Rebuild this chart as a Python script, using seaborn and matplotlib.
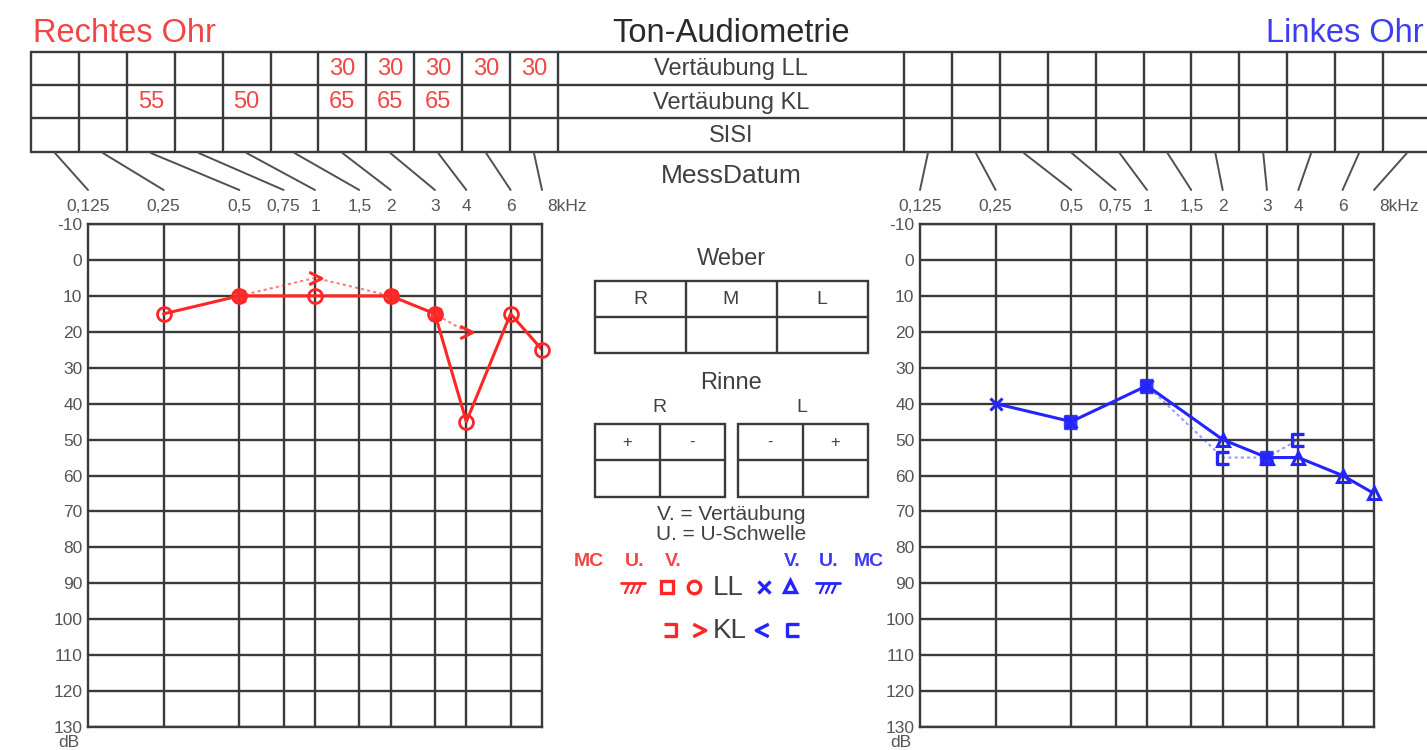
import matplotlib
matplotlib.use('Agg')
import matplotlib.pyplot as plt
from matplotlib.path import Path
from matplotlib.patches import ConnectionPatch, Rectangle
import seaborn as sns

# Frequenzen (kHz) und Beschriftung
freqs = [0.125, 0.25, 0.5, 0.75, 1, 1.5, 2, 3, 4, 6, 8]
freq_labels = ['0,125', '0,25', '0,5', '0,75', '1', '1,5', '2', '3', '4', '6', '8kHz']
db_ticks = list(range(-10, 131, 10))

# Vertäubung rechtes Ohr (Tabelle oben links)
mask_ll_right = ['', '', '', '', '', '', '30', '30', '30', '30', '30']
mask_kl_right = ['', '', '55', '', '50', '', '65', '65', '65', '', '']
row_labels = ['Vertäubung LL', 'Vertäubung KL', 'SISI']

# rechtes Ohr (rot)
right_ll_freq = [0.25, 0.5, 1, 2, 3, 4, 6, 8]
right_ll_db = [15, 10, 10, 10, 15, 45, 15, 25]
right_kl_freq = [0.5, 1, 2, 3, 4]
right_kl_db = [10, 5, 10, 15, 20]
right_kl_sym = ['bracket', 'chevron', 'bracket', 'bracket', 'chevron']

# linkes Ohr (blau)
left_ll_freq = [0.25, 0.5, 1, 2, 3, 4, 6, 8]
left_ll_db = [40, 45, 35, 50, 55, 55, 60, 65]
left_ll_sym = ['x', 'x', 'x', 'tri', 'tri', 'tri', 'tri', 'tri']
left_kl_freq = [0.5, 1, 2, 3, 4]
left_kl_db = [45, 35, 55, 55, 50]

RED = '#ff2626'
BLUE = '#2424ff'
TRED = '#f24545'
TBLUE = '#3c3cf0'
GRID = '#3a3a3a'
TXT = '#404040'
LBL = '#555555'

# eigene Marker
MV = [Path.MOVETO, Path.LINETO, Path.LINETO, Path.LINETO]
BR_R = Path([(-1, 1), (1, 1), (1, -1), (-1, -1)], MV)   # ⊐
BR_L = Path([(1, 1), (-1, 1), (-1, -1), (1, -1)], MV)   # ⊏
CH_R = Path([(-1, 1), (1, 0), (-1, -1)], MV[:3])        # >
CH_L = Path([(1, 1), (-1, 0), (1, -1)], MV[:3])         # <

W, H = 1427, 750
sns.set_theme(style='white')
plt.rcParams['font.family'] = ['Liberation Sans', 'DejaVu Sans']

fig = plt.figure(figsize=(W / 100, H / 100), dpi=100)
fig.patch.set_facecolor('white')

# Hilfsachse in Pixelkoordinaten für Tabellen und Texte
ov = fig.add_axes([0, 0, 1, 1], zorder=-1)
ov.set_xlim(0, W)
ov.set_ylim(H, 0)
ov.axis('off')

top, bot = 224, 727
axR = fig.add_axes([88 / W, 1 - bot / H, 454 / W, (bot - top) / H])
axL = fig.add_axes([920 / W, 1 - bot / H, 454 / W, (bot - top) / H])

TICK_FS = 12.5


def setup_audiogram(ax):
    ax.set_xscale('log', base=2)
    ax.set_xlim(0.125, 8)
    ax.set_ylim(130, -10)
    ax.set_xticks(freqs[1:-1])
    ax.minorticks_off()
    ax.set_yticks(db_ticks)
    ax.set_yticklabels([str(v) for v in db_ticks])
    ax.grid(True, color=GRID, lw=1.7)
    ax.tick_params(axis='x', length=0, labelbottom=False)
    ax.tick_params(axis='y', length=0, labelsize=TICK_FS, labelcolor=LBL, pad=4)
    for s in ax.spines.values():
        s.set_color(GRID)
        s.set_linewidth(1.7)
    ax.set_xlabel('')
    ax.set_ylabel('')
    tr = ax.get_xaxis_transform()
    for f, lab in zip(freqs, freq_labels):
        if lab.endswith('kHz'):
            ax.annotate(lab, (f, 1.034), xycoords=tr, xytext=(4, 0), textcoords='offset points',
                        ha='left', va='center', fontsize=TICK_FS, color=LBL)
        else:
            ax.text(f, 1.034, lab, transform=tr, ha='center', va='center', fontsize=TICK_FS,
                    color=LBL)
    ax.text(-0.018, -0.03, 'dB', transform=ax.transAxes, ha='right', va='center',
            fontsize=TICK_FS, color=LBL)


# rechtes Ohr
sns.lineplot(x=right_ll_freq, y=right_ll_db, ax=axR, color=RED, lw=2.2, sort=False)
sns.lineplot(x=right_kl_freq, y=right_kl_db, ax=axR, color=RED, lw=1.5, sort=False,
             linestyle=(0, (1.5, 1.5)), alpha=0.6)
axR.plot(right_ll_freq, right_ll_db, ls='none', marker='o', ms=10, mfc='none', mec=RED,
         mew=2, clip_on=False, zorder=5)
for f, v, s in zip(right_kl_freq, right_kl_db, right_kl_sym):
    if s == 'bracket':
        axR.plot([f], [v], ls='none', marker=BR_R, ms=7, mfc=RED, mec=RED, mew=2.5,
                 alpha=0.9, clip_on=False, zorder=6)
    else:
        axR.plot([f], [v], ls='none', marker=CH_R, ms=9, mfc='none', mec=RED, mew=2.2,
                 clip_on=False, zorder=6)

# linkes Ohr
sns.lineplot(x=left_ll_freq, y=left_ll_db, ax=axL, color=BLUE, lw=2.2, sort=False)
sns.lineplot(x=left_kl_freq, y=left_kl_db, ax=axL, color=BLUE, lw=1.5, sort=False,
             linestyle=(0, (1.5, 1.5)), alpha=0.45)
for f, v, s in zip(left_ll_freq, left_ll_db, left_ll_sym):
    mk = 'x' if s == 'x' else '^'
    axL.plot([f], [v], ls='none', marker=mk, ms=9, mfc='none', mec=BLUE, mew=2.2,
             clip_on=False, zorder=5)
ll_points = set(zip(left_ll_freq, left_ll_db))
for f, v in zip(left_kl_freq, left_kl_db):
    # wo Luft- und Knochenleitung zusammenfallen, wirkt das Symbol gefüllt
    fill = BLUE if (f, v) in ll_points else 'none'
    axL.plot([f], [v], ls='none', marker=BR_L, ms=8, mfc=fill, mec=BLUE, mew=2.4,
             alpha=0.9 if fill != 'none' else 1, clip_on=False, zorder=6)

setup_audiogram(axR)
setup_audiogram(axL)

# Überschriften
ov.text(33, 34, 'Rechtes Ohr', color=TRED, fontsize=23.5, ha='left', va='center')
ov.text(731, 34, 'Ton-Audiometrie', color='#2a2a2a', fontsize=23.5, ha='center', va='center')
ov.text(1424, 34, 'Linkes Ohr', color=TBLUE, fontsize=23.5, ha='right', va='center')

# Tabelle oben
rows_y = [52, 85, 118, 152]
cw = 47.9
xl0, xr0 = 31, 904
tkw = dict(color=GRID, lw=1.7)
for y in rows_y:
    ov.plot([xl0, W + 10], [y, y], **tkw)
for k in range(12):
    ov.plot([xl0 + k * cw] * 2, [rows_y[0], rows_y[-1]], **tkw)
    ov.plot([xr0 + k * cw] * 2, [rows_y[0], rows_y[-1]], **tkw)
for i, lab in enumerate(row_labels):
    yc = (rows_y[i] + rows_y[i + 1]) / 2
    ov.text(731, yc + 1, lab, ha='center', va='center', fontsize=17, color=TXT)
for k, (a, b) in enumerate(zip(mask_ll_right, mask_kl_right)):
    xc = xl0 + (k + 0.5) * cw
    if a:
        ov.text(xc, 69, a, ha='center', va='center', fontsize=17, color=TRED)
    if b:
        ov.text(xc, 102, b, ha='center', va='center', fontsize=17, color=TRED)
ov.text(731, 176, 'MessDatum', ha='center', va='center', fontsize=19, color=TXT)

# Verbindungslinien Tabelle -> Frequenz
yend = (bot - 190) / (bot - top)
for k, f in enumerate(freqs):
    for x0, ax in ((xl0, axR), (xr0, axL)):
        con = ConnectionPatch(xyA=(x0 + (k + 0.5) * cw, 153), coordsA=ov.transData,
                              xyB=(f, yend), coordsB=ax.get_xaxis_transform(),
                              color='#505050', lw=1.4)
        fig.add_artist(con)

# Weber
ov.text(731, 259, 'Weber', ha='center', va='center', fontsize=17, color=TXT)
ov.add_patch(Rectangle((595, 281), 273, 72, fill=False, ec=GRID, lw=1.7))
ov.plot([595, 868], [317, 317], **tkw)
for x in (686, 777):
    ov.plot([x, x], [281, 353], **tkw)
for x, lab in zip((640, 731, 822), ('R', 'M', 'L')):
    ov.text(x, 299, lab, ha='center', va='center', fontsize=14, color=TXT)

# Rinne
ov.text(731, 383, 'Rinne', ha='center', va='center', fontsize=17, color=TXT)
ov.text(659, 408, 'R', ha='center', va='center', fontsize=14, color=TXT)
ov.text(802, 408, 'L', ha='center', va='center', fontsize=14, color=TXT)
for bx, signs in ((595, ('+', '-')), (738, ('-', '+'))):
    ov.add_patch(Rectangle((bx, 424), 130, 73, fill=False, ec=GRID, lw=1.7))
    ov.plot([bx, bx + 130], [460, 460], **tkw)
    ov.plot([bx + 65, bx + 65], [424, 497], **tkw)
    for j, sg in enumerate(signs):
        ov.text(bx + 32 + j * 65, 442, sg, ha='center', va='center', fontsize=12, color=TXT)

# Legende
ov.text(731, 515, 'V. = Vertäubung', ha='center', va='center', fontsize=15, color=TXT)
ov.text(731, 535, 'U. = U-Schwelle', ha='center', va='center', fontsize=15, color=TXT)
for x, lab in zip((589, 635, 673), ('MC', 'U.', 'V.')):
    ov.text(x, 561, lab, ha='center', va='center', fontsize=14, color=TRED, fontweight='bold')
for x, lab in zip((792, 829, 869), ('V.', 'U.', 'MC')):
    ov.text(x, 561, lab, ha='center', va='center', fontsize=14, color=TBLUE, fontweight='bold')


def mc_symbol(x0, y0, c):
    ov.plot([x0, x0 + 24], [y0, y0], color=c, lw=2)
    for i in range(3):
        ov.plot([x0 + 8 + i * 6, x0 + 4 + i * 6], [y0 + 1, y0 + 10], color=c, lw=1.6)


mc_symbol(621, 583, RED)
mc_symbol(816, 583, BLUE)
mkw = dict(ls='none', mfc='none', mew=2.4)
ov.plot([667], [587], marker='s', ms=9, mec=RED, **mkw)
ov.plot([694], [587], marker='o', ms=9, mec=RED, **mkw)
ov.text(728, 588, 'LL', ha='center', va='center', fontsize=20, color=TXT)
ov.plot([764], [587], marker='x', ms=9, mec=BLUE, **mkw)
ov.plot([790], [586], marker='^', ms=9, mec=BLUE, **mkw)
ov.plot([670], [630], marker=BR_R, ms=9, mec=RED, **mkw)
ov.plot([699], [630], marker=CH_R, ms=9, mec=RED, **mkw)
ov.text(730, 631, 'KL', ha='center', va='center', fontsize=20, color=TXT)
ov.plot([762], [630], marker=CH_L, ms=9, mec=BLUE, **mkw)
ov.plot([793], [630], marker=BR_L, ms=9, mec=BLUE, **mkw)

fig.savefig('out.png', dpi=100)
